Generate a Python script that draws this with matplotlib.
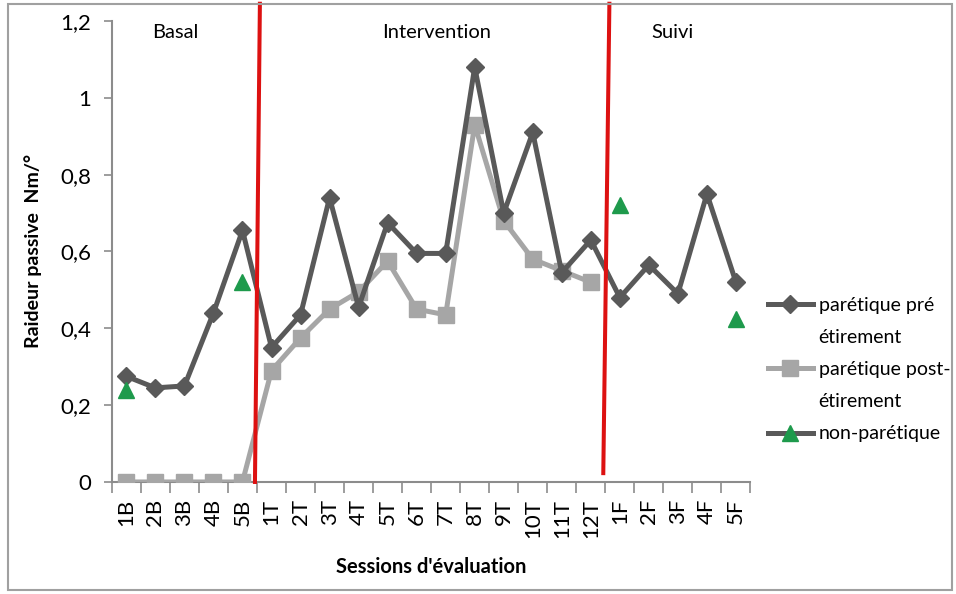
import matplotlib.pyplot as plt
from matplotlib.lines import Line2D
from matplotlib.patches import Rectangle
import numpy as np

plt.rcParams['font.family'] = ['Lato', 'DejaVu Sans']

sessions = ["1B", "2B", "3B", "4B", "5B",
            "1T", "2T", "3T", "4T", "5T", "6T", "7T", "8T", "9T", "10T", "11T", "12T",
            "1F", "2F", "3F", "4F", "5F"]
pre = [0.275, 0.245, 0.25, 0.44, 0.655,
       0.35, 0.435, 0.74, 0.455, 0.675, 0.595, 0.595, 1.08, 0.70, 0.91, 0.545, 0.63,
       0.48, 0.565, 0.49, 0.75, 0.52]
post = [0, 0, 0, 0, 0,
        0.29, 0.375, 0.45, 0.495, 0.575, 0.45, 0.435, 0.93, 0.68, 0.58, 0.55, 0.52,
        None, None, None, None, None]
non_paretic = [0.24, None, None, None, 0.52,
               None, None, None, None, None, None, None, None, None, None, None, None,
               0.72, None, None, None, 0.425]
phases = ["Basal", "Intervention", "Suivi"]
phase_centers = [1.7, 10.7, 18.8]
# phase boundaries (slightly slanted, as hand drawn): (x top, x bottom, y bottom)
boundaries = [(4.6, 4.43, 0.0), (16.64, 16.43, 0.023)]

dark = "#595959"
light = "#a6a6a6"
green = "#1e9a4c"

x = np.arange(len(sessions))
post_arr = np.array([np.nan if v is None else v for v in post])
np_arr = np.array([np.nan if v is None else v for v in non_paretic])

fig = plt.figure(figsize=(9.56, 5.94), dpi=100)
ax = fig.add_axes([0.117, 0.1886, 0.668, 0.776])

ax.plot(x, post_arr, color=light, lw=3.6, marker="s", ms=11.5, zorder=3)
ax.plot(x, pre, color=dark, lw=3.6, marker="D", ms=9, zorder=4)
ax.plot(x, np_arr, ls="none", marker="^", color=green, ms=11, zorder=5)

for xt, xb, yb in boundaries:
    ax.plot([xt, xb], [1.245, yb], color="#dd1111", lw=2.9, zorder=6, clip_on=False)

for name, cx in zip(phases, phase_centers):
    ax.text(cx, 1.169, name, ha="center", va="center", fontsize=14.5)

ax.set_xlim(-0.5, len(sessions) - 0.5)
ax.set_ylim(0, 1.2)
ax.set_yticks(np.arange(0, 1.21, 0.2))
ax.set_yticklabels(["0", "0,2", "0,4", "0,6", "0,8", "1", "1,2"], fontsize=16)
ax.set_xticks(x)
ax.set_xticklabels(sessions, rotation=90, fontsize=16)
ax.set_xticks(np.arange(-0.5, len(sessions)), minor=True)
ax.tick_params(axis="x", which="major", length=0, pad=12)
ax.tick_params(axis="x", which="minor", length=8, color="#8c8c8c", width=1.2)
ax.tick_params(axis="y", length=6, color="#8c8c8c", width=1.2, pad=9)

for s in ["top", "right"]:
    ax.spines[s].set_visible(False)
for s in ["left", "bottom"]:
    ax.spines[s].set_color("#8c8c8c")
    ax.spines[s].set_linewidth(1.5)

ax.set_ylabel("Raideur passive  Nm/°", fontsize=14, fontweight="bold", labelpad=13)
ax.set_xlabel("Sessions d'évaluation", fontsize=14.5, fontweight="bold", labelpad=14)

blank = Line2D([], [], color="none")
handles = [
    Line2D([], [], color=dark, lw=3.6, marker="D", ms=9),
    blank,
    Line2D([], [], color=light, lw=3.6, marker="s", ms=11.5),
    blank,
    Line2D([], [], color=dark, lw=3.6, marker="^", ms=11, mfc=green, mec=green),
]
labels = ["parétique pré", "étirement", "parétique post-", "étirement", "non-parétique"]
ax.legend(handles, labels, loc="upper left", bbox_to_anchor=(1.0, 0.44), frameon=False,
          fontsize=14, handlelength=2.3, handletextpad=0.3, labelspacing=0.78)

fig.patches.append(Rectangle((0.008, 0.007), 0.988, 0.986, transform=fig.transFigure,
                             fill=False, edgecolor="#a0a0a0", lw=1.5))

fig.savefig("out.png", dpi=100)
